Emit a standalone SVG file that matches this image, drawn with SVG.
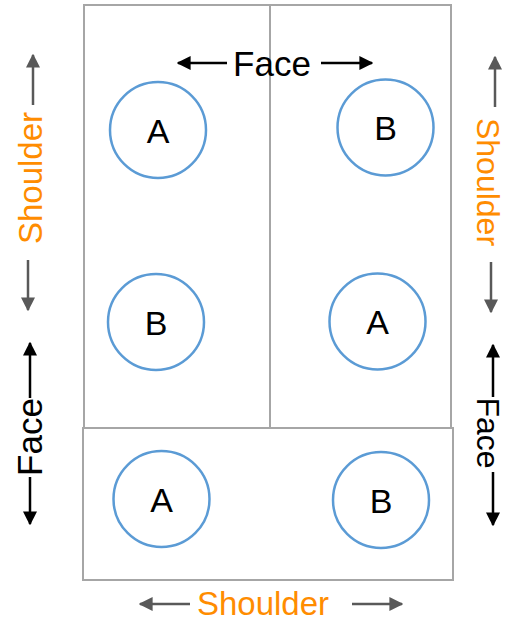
<svg xmlns="http://www.w3.org/2000/svg" width="508" height="621" viewBox="0 0 508 621">
<defs>
<marker id="ag" viewBox="0 0 10 10" refX="9" refY="5" markerWidth="14" markerHeight="14" markerUnits="userSpaceOnUse" orient="auto"><path d="M0,0 L10,5 L0,10 z" fill="#595959"/></marker>
<marker id="ab" viewBox="0 0 10 10" refX="9" refY="5" markerWidth="14" markerHeight="14" markerUnits="userSpaceOnUse" orient="auto"><path d="M0,0 L10,5 L0,10 z" fill="#000"/></marker>
</defs>
<style>
.box{fill:none;stroke:#a6a6a6;stroke-width:2}
.c{fill:#fff;stroke:#5b9bd5;stroke-width:2.5}
.lt{font-family:"Liberation Sans",Arial,sans-serif;font-size:34px;fill:#000;text-anchor:middle}
.face{font-family:"Liberation Sans",Arial,sans-serif;font-size:35px;fill:#000;text-anchor:middle}
.sh{font-family:"Liberation Sans",Arial,sans-serif;font-size:33px;fill:#ff8c00;text-anchor:middle}
.g{stroke:#595959;stroke-width:2.5;fill:none;marker-end:url(#ag)}
.k{stroke:#000;stroke-width:2.5;fill:none;marker-end:url(#ab)}
</style>
<rect width="508" height="621" fill="#fff"/>
<g id="panels">
<rect class="box" x="84" y="5" width="186" height="423"/>
<rect class="box" x="270" y="5" width="181" height="423"/>
<rect class="box" x="83" y="428" width="370" height="152"/>
</g>
<g id="nodeA1"><circle class="c" cx="158" cy="130" r="48"/><text class="lt" x="158" y="143">A</text></g>
<g id="nodeB1"><circle class="c" cx="385.5" cy="127.5" r="48"/><text class="lt" x="385.5" y="140">B</text></g>
<g id="nodeB2"><circle class="c" cx="156" cy="322" r="48"/><text class="lt" x="156" y="335">B</text></g>
<g id="nodeA2"><circle class="c" cx="377.5" cy="321.5" r="48"/><text class="lt" x="377.5" y="334">A</text></g>
<g id="nodeA3"><circle class="c" cx="161.5" cy="499" r="48"/><text class="lt" x="161.5" y="512">A</text></g>
<g id="nodeB3"><circle class="c" cx="381" cy="500" r="48"/><text class="lt" x="381" y="513">B</text></g>
<g id="labels">
<text class="face" x="272" y="76">Face</text>
<text class="sh" x="263" y="615">Shoulder</text>
<text class="sh" transform="translate(42,178) rotate(-90)">Shoulder</text>
<text class="sh" style="font-size:32px" transform="translate(477,182) rotate(90)">Shoulder</text>
<text class="face" transform="translate(42,437) rotate(-90)">Face</text>
<text class="face" style="font-size:32px" transform="translate(477,433) rotate(90)">Face</text>
</g>
<g id="connectors">
<line class="k" x1="227" y1="63" x2="178" y2="63"/>
<line class="k" x1="321" y1="63" x2="372" y2="63"/>
<line class="g" x1="190" y1="604" x2="140" y2="604"/>
<line class="g" x1="352" y1="604" x2="402" y2="604"/>
<line class="g" x1="33" y1="105" x2="33" y2="55"/>
<line class="g" x1="28" y1="260" x2="28" y2="310"/>
<line class="g" x1="495" y1="107" x2="495" y2="57"/>
<line class="g" x1="491" y1="262" x2="491" y2="312"/>
<line class="k" x1="30" y1="398" x2="30" y2="343"/>
<line class="k" x1="30" y1="477" x2="30" y2="524"/>
<line class="k" x1="493" y1="397" x2="493" y2="345"/>
<line class="k" x1="493" y1="472" x2="493" y2="525"/>
</g>
</svg>
